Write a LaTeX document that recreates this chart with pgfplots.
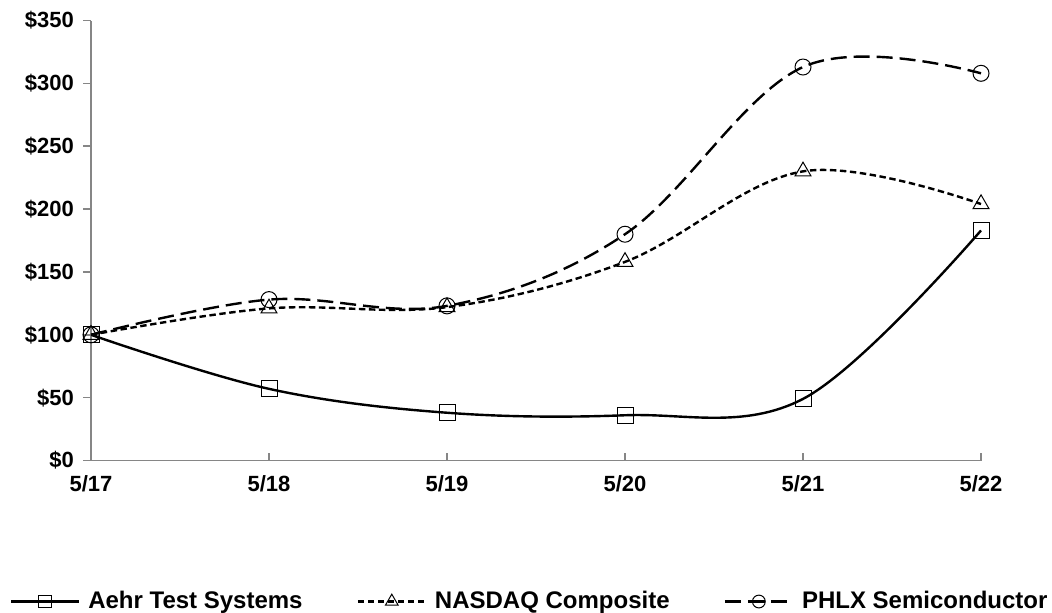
\documentclass[border=0pt]{standalone}
\usepackage{pgfplots}
\pgfplotsset{compat=1.18}
\usepackage{fontspec}
\setmainfont{Liberation Sans}

\definecolor{axisgray}{RGB}{134,134,134}

\begin{document}
\begin{tikzpicture}
\useasboundingbox (-45.5pt,-75.75pt) rectangle (480.5pt,230.25pt);
\begin{axis}[
    at={(0,0)}, anchor=south west,
    scale only axis,
    width=445pt, height=220pt,
    xmin=0, xmax=5, ymin=0, ymax=350,
    axis x line=bottom, axis y line=left,
    axis line style={-, axisgray, line width=0.8pt},
    tick style={axisgray, line width=0.8pt},
    major tick length=4pt,
    xtick align=inside, ytick align=outside,
    xtick={0,1,2,3,4,5},
    xticklabels={5/17,5/18,5/19,5/20,5/21,5/22},
    ytick={0,50,...,350},
    yticklabels={\$0,\$50,\$100,\$150,\$200,\$250,\$300,\$350},
    ticklabel style={font=\bfseries\fontsize{11}{13}\selectfont, black},
    x tick label style={yshift=-4pt},
    y tick label style={xshift=-1pt},
    /pgf/number format/assume math mode=true,
    clip=false,
    legend columns=3,
    legend style={at={(0.494,-0.3205)}, anchor=center, draw=none,
        font=\bfseries\fontsize{12}{14}\selectfont,
        /tikz/every odd column/.append style={column sep=2pt},
        /tikz/every even column/.append style={column sep=25pt}},
    legend image code/.code={%
        \draw[mark repeat=2, mark phase=2, every mark/.append style={scale=0.8}, #1]
            plot coordinates {(0pt,0pt) (17pt,0pt) (34pt,0pt)};},
    every axis plot/.append style={black, line width=1.2pt, smooth, tension=0.6,
        mark options={solid, line width=0.5pt, fill=none}},
]
\addplot[mark=square, mark size=4pt] coordinates {
    (0,100) (1,57) (2,38) (3,36) (4,49) (5,183)};
\addlegendentry{Aehr Test Systems}
\addplot[mark=triangle, mark size=4.6pt, dash pattern=on 3.2pt off 1.8pt] coordinates {
    (0,100) (1,121) (2,122) (3,158) (4,230) (5,204)};
\addlegendentry{NASDAQ Composite}
\addplot[mark=o, mark size=4pt, dash pattern=on 8pt off 3.5pt] coordinates {
    (0,100) (1,128) (2,123) (3,180) (4,313) (5,308)};
\addlegendentry{PHLX Semiconductor}
\end{axis}
\end{tikzpicture}
\end{document}
